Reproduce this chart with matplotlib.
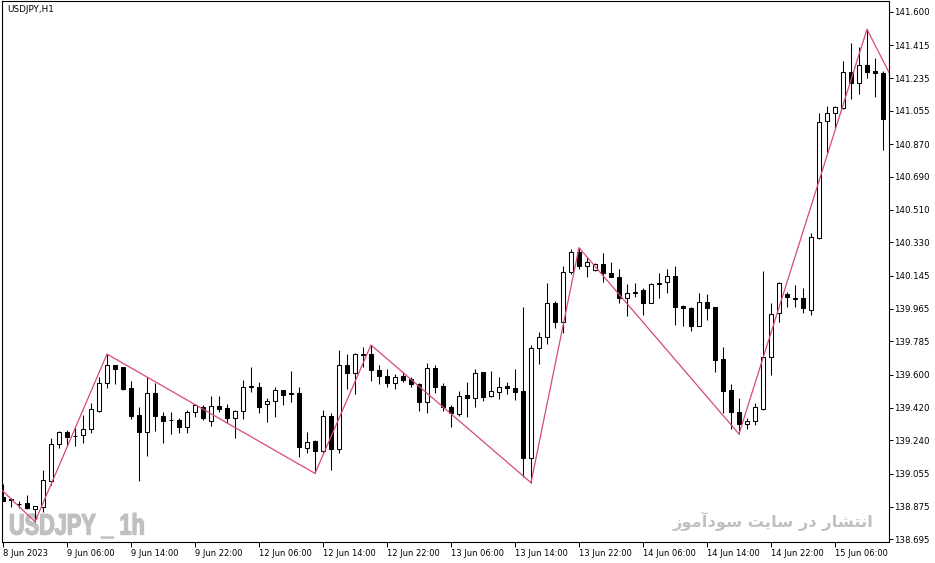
import numpy as np
import matplotlib
matplotlib.use("Agg")
import matplotlib.pyplot as plt
from matplotlib.textpath import TextPath
from matplotlib.patches import PathPatch
from matplotlib.font_manager import FontProperties
from matplotlib.transforms import Affine2D

# USDJPY H1 candles, 8 Jun 22:00 -> 15 Jun 12:00 (2023)
opens = [
    138.930, 138.915, 138.889, 138.895, 138.862, 138.875, 139.018, 139.218, 139.284, 139.264,
    139.267, 139.300, 139.403, 139.554, 139.653, 139.642, 139.526, 139.379, 139.288, 139.502,
    139.374, 139.352, 139.352, 139.315, 139.394, 139.422, 139.348, 139.429, 139.416, 139.365,
    139.401, 139.539, 139.532, 139.440, 139.456, 139.515, 139.499, 139.500, 139.196, 139.236,
    139.183, 139.374, 139.194, 139.655, 139.613, 139.713, 139.713, 139.627, 139.594, 139.554,
    139.592, 139.576, 139.550, 139.453, 139.636, 139.539, 139.422, 139.383, 139.490, 139.471,
    139.614, 139.482, 139.508, 139.539, 139.526, 139.512, 139.144, 139.747, 139.807, 139.994,
    139.890, 140.168, 140.275, 140.201, 140.179, 140.209, 140.159, 140.137, 140.025, 140.055,
    140.068, 139.998, 140.104, 140.110, 140.145, 139.980, 139.967, 139.871, 140.000, 139.972,
    139.686, 139.515, 139.398, 139.328, 139.348, 139.411, 139.701, 139.939, 140.044, 140.022,
    140.022, 139.958, 140.355, 141.000, 141.040, 141.068, 141.266, 141.209, 141.305, 141.274,
    141.261]
highs = [
    138.999, 138.921, 138.908, 138.939, 138.880, 139.077, 139.251, 139.293, 139.297, 139.315,
    139.379, 139.444, 139.590, 139.715, 139.656, 139.646, 139.567, 139.422, 139.590, 139.557,
    139.396, 139.398, 139.361, 139.407, 139.440, 139.433, 139.486, 139.484, 139.440, 139.407,
    139.572, 139.646, 139.563, 139.471, 139.535, 139.517, 139.622, 139.535, 139.288, 139.242,
    139.407, 139.388, 139.737, 139.715, 139.723, 139.756, 139.765, 139.655, 139.631, 139.605,
    139.614, 139.590, 139.554, 139.664, 139.655, 139.557, 139.434, 139.512, 139.563, 139.631,
    139.618, 139.622, 139.587, 139.563, 139.631, 139.976, 139.765, 139.838, 140.105, 140.007,
    140.200, 140.292, 140.301, 140.251, 140.215, 140.270, 140.220, 140.181, 140.101, 140.104,
    140.077, 140.104, 140.163, 140.181, 140.200, 139.983, 139.972, 140.053, 140.046, 139.976,
    139.752, 139.550, 139.471, 139.361, 139.444, 140.174, 139.994, 140.110, 140.059, 140.095,
    140.077, 140.380, 141.040, 141.081, 141.081, 141.329, 141.430, 141.407, 141.503, 141.343,
    141.274]
lows = [
    138.905, 138.871, 138.866, 138.862, 138.792, 138.847, 138.994, 139.196, 139.211, 139.211,
    139.227, 139.278, 139.398, 139.526, 139.548, 139.517, 139.356, 139.018, 139.154, 139.293,
    139.227, 139.273, 139.282, 139.278, 139.367, 139.352, 139.321, 139.398, 139.337, 139.255,
    139.359, 139.508, 139.392, 139.343, 139.370, 139.434, 139.453, 139.150, 139.168, 139.058,
    139.165, 139.077, 139.172, 139.523, 139.493, 139.646, 139.568, 139.550, 139.535, 139.523,
    139.563, 139.535, 139.403, 139.392, 139.502, 139.403, 139.315, 139.374, 139.370, 139.422,
    139.458, 139.480, 139.468, 139.493, 139.462, 139.040, 139.007, 139.659, 139.769, 139.860,
    139.833, 140.154, 140.183, 140.141, 140.174, 140.114, 140.139, 139.998, 139.925, 140.031,
    139.930, 139.994, 140.022, 140.053, 139.875, 139.869, 139.844, 139.869, 139.902, 139.618,
    139.392, 139.300, 139.275, 139.302, 139.324, 139.407, 139.600, 139.893, 139.976, 139.976,
    139.943, 139.930, 140.347, 140.820, 140.958, 141.062, 141.117, 141.147, 141.237, 141.132,
    140.839]
closes = [
    138.908, 138.910, 138.890, 138.866, 138.877, 139.020, 139.218, 139.284, 139.260, 139.263,
    139.300, 139.411, 139.554, 139.653, 139.634, 139.521, 139.376, 139.288, 139.499, 139.376,
    139.348, 139.350, 139.315, 139.394, 139.433, 139.365, 139.431, 139.414, 139.365, 139.401,
    139.535, 139.532, 139.425, 139.456, 139.515, 139.488, 139.497, 139.201, 139.233, 139.183,
    139.374, 139.194, 139.655, 139.613, 139.713, 139.712, 139.627, 139.596, 139.557, 139.590,
    139.574, 139.548, 139.453, 139.636, 139.535, 139.425, 139.388, 139.482, 139.475, 139.609,
    139.480, 139.512, 139.532, 139.530, 139.508, 139.144, 139.747, 139.807, 139.994, 139.890,
    140.168, 140.275, 140.201, 140.223, 140.209, 140.159, 140.141, 140.025, 140.049, 140.054,
    139.998, 140.101, 140.099, 140.145, 139.976, 139.967, 139.871, 140.000, 139.970, 139.682,
    139.513, 139.398, 139.328, 139.348, 139.425, 139.701, 139.934, 140.104, 140.031, 140.020,
    139.967, 140.358, 140.995, 141.040, 141.073, 141.266, 141.206, 141.305, 141.266, 141.261,
    141.007]

# zigzag turning points (bar index, price); first and last lie off screen
zz_bars = [-5, 4, 13, 39, 46, 66, 72, 92, 108, 120]
zz_prices = [139.170, 138.792, 139.715, 139.058, 139.765, 139.007, 140.301,
             139.275, 141.503, 140.471]

price_ticks = [141.600, 141.415, 141.235, 141.055, 140.870, 140.690, 140.510,
               140.330, 140.145, 139.965, 139.785, 139.600, 139.420, 139.240,
               139.055, 138.875, 138.695]
time_labels = ["8 Jun 2023", "9 Jun 06:00", "9 Jun 14:00", "9 Jun 22:00",
               "12 Jun 06:00", "12 Jun 14:00", "12 Jun 22:00", "13 Jun 06:00",
               "13 Jun 14:00", "13 Jun 22:00", "14 Jun 06:00", "14 Jun 14:00",
               "14 Jun 22:00", "15 Jun 06:00"]
label_step = 8  # one time label every 8 bars

# tiny shaper: Persian letters -> presentation forms, visual order
FORMS = {
    'ا': ('\uFE8D', '\uFE8E', None, None),
    'آ': ('\uFE81', '\uFE82', None, None),
    'د': ('\uFEA9', '\uFEAA', None, None),
    'ر': ('\uFEAD', '\uFEAE', None, None),
    'ز': ('\uFEAF', '\uFEB0', None, None),
    'و': ('\uFEED', '\uFEEE', None, None),
    'ن': ('\uFEE5', '\uFEE6', '\uFEE7', '\uFEE8'),
    'ت': ('\uFE95', '\uFE96', '\uFE97', '\uFE98'),
    'ش': ('\uFEB5', '\uFEB6', '\uFEB7', '\uFEB8'),
    'س': ('\uFEB1', '\uFEB2', '\uFEB3', '\uFEB4'),
    'م': ('\uFEE1', '\uFEE2', '\uFEE3', '\uFEE4'),
    'ی': ('\uFBFC', '\uFBFD', '\uFEF3', '\uFEF4'),
}


def shape(text):
    out = []
    for k, ch in enumerate(text):
        if ch not in FORMS:
            out.append(ch)
            continue
        prev = text[k - 1] if k > 0 else ' '
        nxt = text[k + 1] if k + 1 < len(text) else ' '
        join_prev = prev in FORMS and FORMS[prev][2] is not None
        join_next = FORMS[ch][2] is not None and nxt in FORMS
        iso, fin, ini, med = FORMS[ch]
        if join_prev and join_next:
            out.append(med)
        elif join_prev:
            out.append(fin)
        elif join_next:
            out.append(ini)
        else:
            out.append(iso)
    return ''.join(reversed(out))


plt.rcParams['font.family'] = ['DejaVu Sans']

W, H = 935, 563
fig = plt.figure(figsize=(W / 100, H / 100), dpi=100)
ax = fig.add_axes([2 / W, 1 - 541.7 / H, 886.5 / W, 540.7 / H])

o = np.array(opens)
h = np.array(highs)
l = np.array(lows)
c = np.array(closes)
x = np.arange(len(o))
up = c >= o

ax.vlines(x, l, h, color='black', lw=0.75, zorder=2)
ax.bar(x, np.abs(c - o), width=0.55, bottom=np.minimum(o, c),
       color=np.where(up, 'white', 'black'), edgecolor='black',
       linewidth=0.75, zorder=3)

ax.plot(zz_bars, zz_prices, color='#d8487a', lw=0.9, zorder=4)

ax.set_xlim(-0.125, 110.69)
ax.set_ylim(138.682, 141.659)

ax.yaxis.tick_right()
ax.set_yticks(price_ticks)
ax.set_yticklabels([f"{p:.3f}" for p in price_ticks])
ax.tick_params(axis='y', direction='out', length=3, width=0.7, pad=1.0,
               labelsize=6.2)

ax.set_xticks(np.arange(len(time_labels)) * label_step)
ax.set_xticklabels(time_labels, ha='left')
ax.tick_params(axis='x', direction='out', length=3.5, width=0.7, pad=2,
               labelsize=6.0)

for s in ax.spines.values():
    s.set_linewidth(0.8)
    s.set_color('black')

fig.text(7 / W, 1 - 10 / H, "USDJPY,H1", fontsize=6.4, va='center')

# watermarks sit behind the candles
# heavy condensed label, squeezed horizontally (pixel coordinates)
wm = TextPath((0, 0), "USDJPY _ 1h", size=29.5,
              prop=FontProperties(family='Liberation Sans', weight='bold'))
wm_patch = PathPatch(wm, transform=Affine2D().scale(0.735, 1).translate(9, H - 534.5),
                     facecolor='#c0c0c0', edgecolor='#c0c0c0', linewidth=1.0,
                     zorder=1)
ax.add_artist(wm_patch)

ax.text(873 / W, 1 - 527 / H, shape("انتشار در سایت سودآموز"), fontsize=11.7,
        fontweight='bold', color='#c0c0c0', ha='right', va='baseline',
        transform=fig.transFigure, zorder=1)

fig.savefig("out.png", dpi=100)
